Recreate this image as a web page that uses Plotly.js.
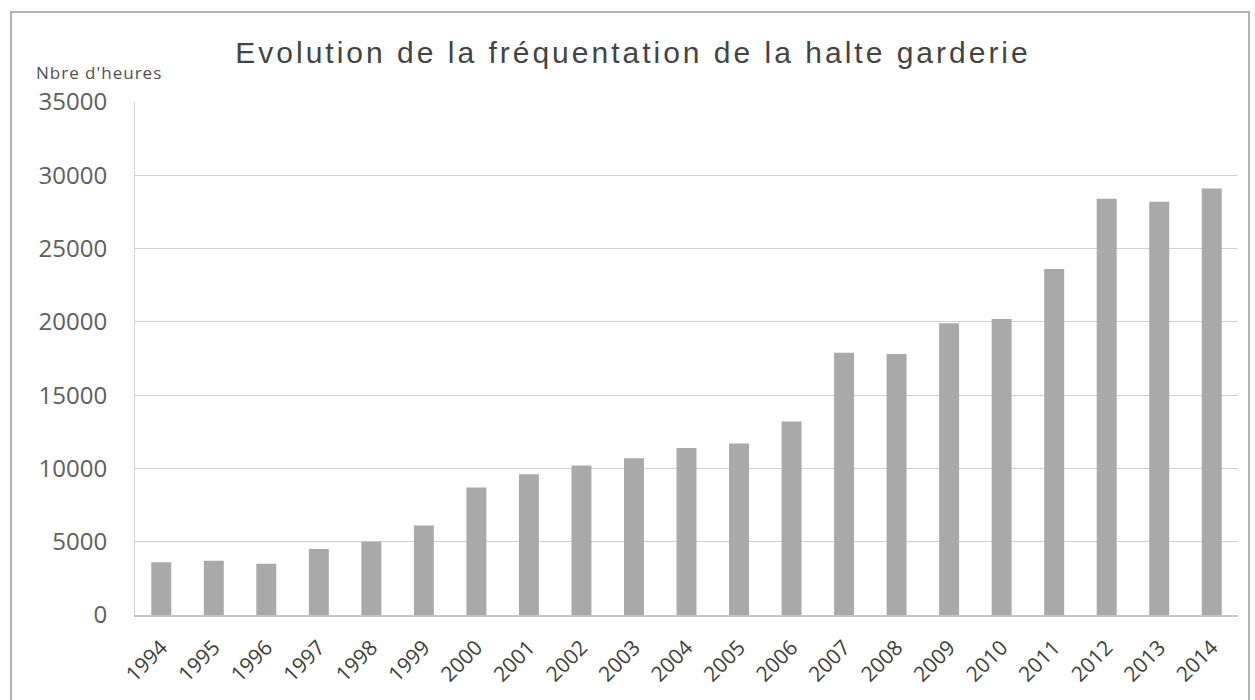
<!DOCTYPE html>
<html>
<head>
<meta charset="utf-8">
<script src="https://cdn.plot.ly/plotly-3.0.1.min.js"></script>
<style>
  html, body { margin: 0; padding: 0; background: #fff; }
  #chart { width: 1255px; height: 700px; }
  #frame { position: absolute; left: 10px; top: 11px; width: 1240px; height: 700px;
           border: 2px solid #b4b4b4; box-sizing: border-box; pointer-events: none; }
  .gtitle { letter-spacing: 3px; }
  .annotation-text { letter-spacing: 1px; }
</style>
</head>
<body>
<div id="chart"></div>
<div id="frame"></div>
<script>
const years = ['1994','1995','1996','1997','1998','1999','2000','2001','2002','2003','2004',
               '2005','2006','2007','2008','2009','2010','2011','2012','2013','2014'];
const heures = [3600, 3700, 3500, 4500, 5000, 6100, 8700, 9600, 10200, 10700, 11400,
                11700, 13200, 17900, 17800, 19900, 20200, 23600, 28400, 28200, 29100];
const yTicks = [0, 5000, 10000, 15000, 20000, 25000, 30000, 35000];
const titleText = 'Evolution de la fréquentation de la halte garderie';
const yLabel = "Nbre d'heures";

const trace = {
  type: 'bar',
  x: years,
  y: heures,
  marker: { color: '#a9a9a9', line: { width: 0 } },
  hoverinfo: 'x+y'
};

const L = 135, R = 1238, T = 102, B = 615;

const layout = {
  width: 1255, height: 700,
  margin: { l: L, r: 1255 - R, t: T, b: 700 - B },
  paper_bgcolor: '#ffffff', plot_bgcolor: '#ffffff',
  showlegend: false,
  bargap: 0.62,
  title: {
    text: titleText,
    x: 633 / 1255, xanchor: 'center', xref: 'container',
    y: 1 - 52 / 700, yanchor: 'middle', yref: 'container',
    font: { family: 'Liberation Sans, Arial, sans-serif', size: 30, color: '#444444' }
  },
  xaxis: {
    type: 'category',
    tickangle: -45,
    tickfont: { family: 'Open Sans, sans-serif', size: 21, color: '#404040' },
    ticklabelstandoff: 10,
    showgrid: false,
    showline: true, linecolor: '#c4c4c4', linewidth: 2,
    ticks: '', zeroline: false
  },
  yaxis: {
    range: [0, 35000],
    tickvals: yTicks,
    ticktext: yTicks.map(String),
    tickfont: { family: 'Open Sans, sans-serif', size: 24, color: '#5e5e5e' },
    ticklabelstandoff: 22,
    showgrid: true, gridcolor: '#cfcfcf', gridwidth: 1,
    showline: true, linecolor: '#d4d4d4', linewidth: 1,
    zeroline: false, ticks: ''
  },
  annotations: [{
    text: yLabel,
    xref: 'paper', yref: 'paper',
    x: (34 - L) / (R - L), y: (B - 73) / (B - T),
    xanchor: 'left', yanchor: 'middle',
    showarrow: false,
    font: { family: 'Open Sans, sans-serif', size: 17, color: '#505050' }
  }]
};

Plotly.newPlot('chart', [trace], layout, { displayModeBar: false, staticPlot: true });
</script>
</body>
</html>
